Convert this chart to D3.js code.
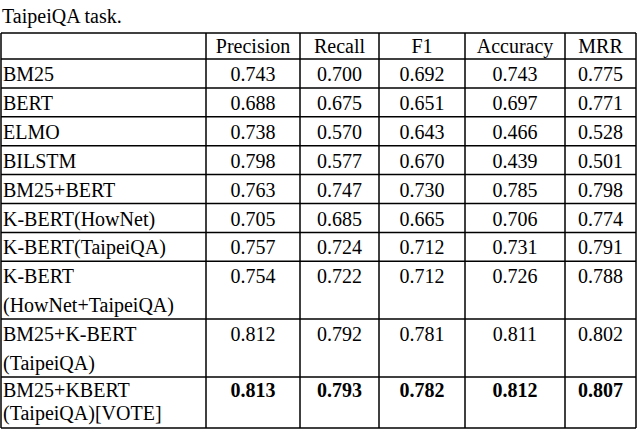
<!DOCTYPE html>
<html><head><meta charset="utf-8">
<script src="https://cdn.jsdelivr.net/npm/d3@7"></script>
<style>body{margin:0;background:#fff}</style>
</head><body>
<svg id="t" width="640" height="429"></svg>
<script>
// Table contents
const columns = ["Precision", "Recall", "F1", "Accuracy", "MRR"];
const models = [["BM25"], ["BERT"], ["ELMO"], ["BILSTM"], ["BM25+BERT"], ["K-BERT(HowNet)"],
    ["K-BERT(TaipeiQA)"], ["K-BERT", "(HowNet+TaipeiQA)"], ["BM25+K-BERT", "(TaipeiQA)"],
    ["BM25+KBERT", "(TaipeiQA)[VOTE]"]];
const precision = ["0.743", "0.688", "0.738", "0.798", "0.763", "0.705", "0.757", "0.754", "0.812", "0.813"];
const recall = ["0.700", "0.675", "0.570", "0.577", "0.747", "0.685", "0.724", "0.722", "0.792", "0.793"];
const f1 = ["0.692", "0.651", "0.643", "0.670", "0.730", "0.665", "0.712", "0.712", "0.781", "0.782"];
const accuracy = ["0.743", "0.697", "0.466", "0.439", "0.785", "0.706", "0.731", "0.726", "0.811", "0.812"];
const mrr = ["0.775", "0.771", "0.528", "0.501", "0.798", "0.774", "0.791", "0.788", "0.802", "0.807"];
const boldRow = 9;

const svg = d3.select("#t"),
    series = [precision, recall, f1, accuracy, mrr],
    colEdges = [1, 206, 300, 379, 465, 565, 636],
    rowH = 28.9;

// Row boundaries: header plus one or two line rows; the last row is squeezed
// at the bottom edge of the page.
const rowEdges = [33, 59];
models.forEach(m => rowEdges.push(rowEdges[rowEdges.length - 1] + rowH * m.length));
rowEdges[rowEdges.length - 1] = 428;
const y = d3.scaleLinear().domain([0, 1]).range([0, 1]);

svg.append("text").attr("x", 2).attr("y", 23).attr("font-family", "Liberation Serif")
    .attr("font-size", 20).text("TaipeiQA task.");

const g = svg.append("g").attr("font-family", "Liberation Serif").attr("font-size", 20).attr("fill", "#000");

// Grid lines
rowEdges.forEach(r => g.append("line").attr("x1", colEdges[0]).attr("x2", colEdges[6])
    .attr("y1", y(r)).attr("y2", y(r)).attr("stroke", "#000").attr("stroke-width", 1.5));
colEdges.forEach(c => g.append("line").attr("x1", c).attr("x2", c)
    .attr("y1", rowEdges[0]).attr("y2", rowEdges[rowEdges.length - 1]).attr("stroke", "#000").attr("stroke-width", 1.5));

// Header
columns.forEach((c, i) => g.append("text").attr("x", (colEdges[i + 1] + colEdges[i + 2]) / 2)
    .attr("y", 53).attr("text-anchor", "middle").text(c));

// Body
models.forEach((m, r) => {
    const top = rowEdges[r + 1],
        gap = r === boldRow ? 23 : rowH,
        first = r === boldRow ? 20 : 22;
    m.forEach((line, k) => g.append("text").attr("x", 3).attr("y", top + first + k * gap).text(line));
    series.forEach((s, c) => g.append("text")
        .attr("x", (colEdges[c + 1] + colEdges[c + 2]) / 2).attr("y", top + first)
        .attr("text-anchor", "middle").attr("font-weight", r === boldRow ? "bold" : "normal")
        .text(s[r]));
});
</script>
</body></html>
